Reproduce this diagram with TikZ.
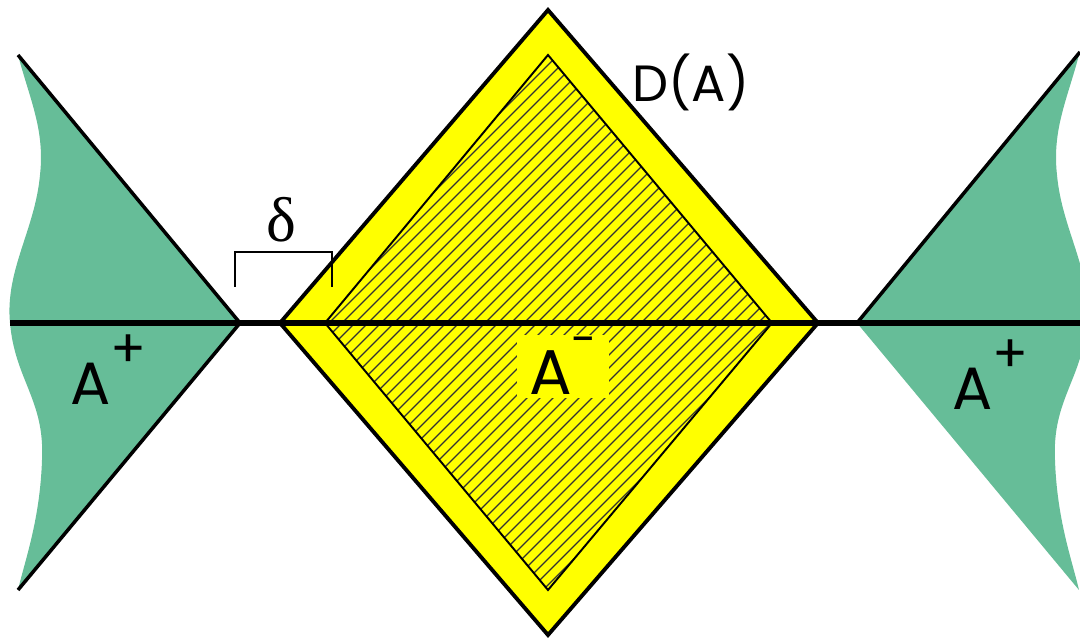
\documentclass[tikz,border=0pt]{standalone}
\usepackage{fontspec}
\setmainfont{Poppins}
\newfontfamily\greekfont{Liberation Serif}
\definecolor{regiongreen}{RGB}{102,189,152}
\definecolor{domyellow}{RGB}{255,255,0}
\newcommand{\supplus}{\raisebox{0.62em}{\fontsize{30}{30}\selectfont+}}
\newcommand{\supminus}{\raisebox{0.62em}{\fontsize{26}{26}\selectfont-}}

\begin{document}
\begin{tikzpicture}[x=0.02cm, y=-0.02cm,
		lbl/.style={inner sep=0pt, font=\fontsize{34}{40}\selectfont},
		hatch/.style={line width=0.7pt, black!80},
		edge/.style={line width=2pt}]
		
		\useasboundingbox (0,0) rectangle (1080,638);
		
		\def\wavyL{(18,55) .. controls (30,100) and (45,130) .. (40,175) .. controls (35,230) and (5,270) .. (10,323) .. controls (15,380) and (45,400) .. (42,460) .. controls (40,520) and (25,560) .. (18,590)}
		
		\fill[regiongreen] \wavyL -- (240,323) -- cycle;
		\fill[regiongreen, xshift=1097*0.02cm, xscale=-1] \wavyL -- (240,323) -- cycle;
		
		\draw[edge] (18,55) -- (240,323) -- (18,590);
		\draw[edge] (857,323) -- (1080,52);
		
		\draw[line width=2.2pt, fill=domyellow] (548,10) -- (818,323) -- (548,635) -- (280,323) -- cycle;
		
		\begin{scope}
			\clip (548,55) -- (772,323) -- (548,590) -- (325,323) -- cycle;
			\foreach \c in {600,613,...,1145} {
				\draw[hatch] ({\c-600},600) -- (\c,0);
			}
		\end{scope}
		\draw[line width=1.1pt] (548,55) -- (772,323) -- (548,590) -- (325,323) -- cycle;
		
		\draw[line width=3.4pt] (10,323) -- (1080,323);
		
		\draw[line width=1.7pt] (235,287) -- (235,252) -- (332,252) -- (332,287);
		\node[inner sep=0pt, font=\greekfont\fontsize{36}{40}\selectfont] (delta) at (281,220) {δ};
		
		\node[lbl, font=\fontsize{29}{34}\selectfont] (dofa) at (691,82) {D(A)};
		\node[lbl, anchor=base west] (aplusL) at (70,405) {A\supplus};
		\node[lbl, anchor=base west] (aplusR) at (952,410) {A\supplus};
		\node[lbl, fill=domyellow, anchor=base, text height=1.2cm, text depth=0.06cm, minimum width=1.86cm, font=\fontsize{36}{40}\selectfont] (aminus) at (563,395) {A\smash{\supminus}};
		
	\end{tikzpicture}
\end{document}
